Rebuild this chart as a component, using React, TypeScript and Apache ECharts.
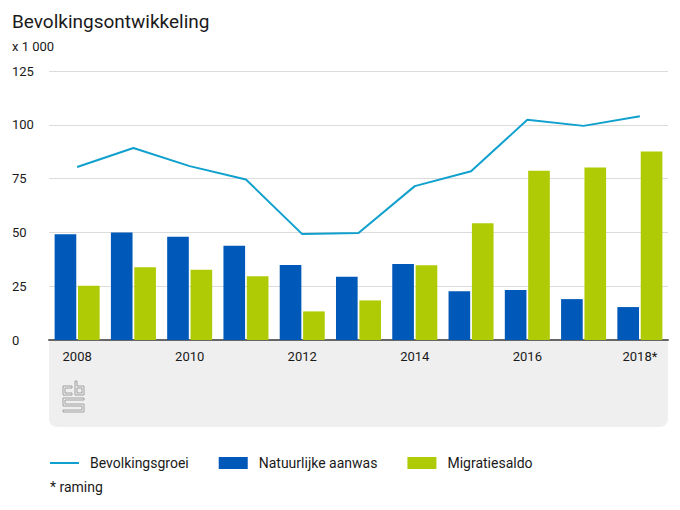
import React, { useEffect, useRef } from "react";
import * as echarts from "echarts";

const years = ["2008", "2009", "2010", "2011", "2012", "2013", "2014", "2015", "2016", "2017", "2018"];
const yearLabels = ["2008", "2009", "2010", "2011", "2012", "2013", "2014", "2015", "2016", "2017", "2018*"];
const bevolkingsgroei = [80.4, 89.2, 80.8, 74.6, 49.2, 49.7, 71.5, 78.4, 102.3, 99.5, 104.0];
const natuurlijkeAanwas = [49.1, 50.0, 48.0, 43.8, 34.8, 29.4, 35.3, 22.6, 23.2, 19.0, 15.3];
const migratiesaldo = [25.2, 33.8, 32.7, 29.6, 13.3, 18.4, 34.7, 54.2, 78.6, 80.2, 87.6];
const yTicks = [0, 25, 50, 75, 100, 125];

const FONT = "Roboto, 'Noto Sans', sans-serif";
const LOGO_STYLE = { fill: "none", stroke: "#a0a0a0", lineWidth: 1 };

export default function App() {
  const ref = useRef<HTMLDivElement>(null);
  useEffect(() => {
    document.body.style.margin = "0";
    const chart = echarts.init(ref.current!, undefined, { renderer: "svg" });
    chart.setOption({
      animation: false,
      textStyle: { fontFamily: FONT },
      title: [
        {
          text: "Bevolkingsontwikkeling",
          left: 7,
          top: 7,
          textStyle: { fontFamily: FONT, fontSize: 19, fontWeight: "normal", color: "#1a1a1a" },
        },
        {
          text: "x 1 000",
          left: 7,
          top: 35,
          textStyle: { fontFamily: FONT, fontSize: 13, fontWeight: "normal", color: "#1a1a1a" },
        },
      ],
      grid: { left: 49, right: 12, top: 71, bottom: 170, containLabel: false },
      legend: {
        left: 45,
        top: 451,
        itemWidth: 29,
        itemHeight: 12,
        itemGap: 30,
        textStyle: { fontFamily: FONT, fontSize: 14, color: "#1a1a1a", padding: [0, 0, 0, 6] },
        data: [
          { name: "Bevolkingsgroei", icon: "path://M0,0L29,0L29,2L0,2Z" },
          { name: "Natuurlijke aanwas", icon: "rect" },
          { name: "Migratiesaldo", icon: "rect" },
        ],
      },
      xAxis: {
        type: "category",
        data: years,
        axisLine: { lineStyle: { color: "#666", width: 2 } },
        axisTick: { show: false },
        axisLabel: {
          interval: 1,
          margin: 10,
          color: "#1a1a1a",
          fontSize: 13,
          fontFamily: FONT,
          formatter: (v: string) => yearLabels[years.indexOf(v)],
        },
      },
      yAxis: {
        type: "value",
        min: yTicks[0],
        max: yTicks[yTicks.length - 1],
        interval: 25,
        axisLine: { show: false },
        axisTick: { show: false },
        splitLine: { lineStyle: { color: "#dcdcdc", width: 1 } },
        axisLabel: { align: "left", margin: 37, color: "#1a1a1a", fontSize: 13, fontFamily: FONT },
      },
      graphic: [
        {
          type: "rect",
          z: -10,
          shape: { x: 49, y: 341, width: 619, height: 86, r: [0, 0, 8, 8] },
          style: { fill: "#efefef" },
        },
        {
          type: "polygon",
          shape: { points: [[72, 386], [63, 386], [63, 395], [72, 395], [72, 393], [65, 393], [65, 388], [72, 388]] },
          style: LOGO_STYLE,
        },
        {
          type: "polygon",
          shape: { points: [[75, 381], [77, 381], [77, 386], [84, 386], [84, 395], [75, 395]] },
          style: LOGO_STYLE,
        },
        {
          type: "rect",
          shape: { x: 77, y: 388, width: 5, height: 5 },
          style: LOGO_STYLE,
        },
        {
          type: "polygon",
          shape: {
            points: [[63, 398], [84, 398], [84, 400], [65, 400], [65, 404], [84, 404], [84, 412], [63, 412], [63, 410], [82, 410], [82, 406], [63, 406]],
          },
          style: LOGO_STYLE,
        },
        {
          type: "text",
          left: 50,
          top: 480,
          style: { text: "* raming", fontSize: 14, fontFamily: FONT, fill: "#1a1a1a" },
        },
      ],
      series: [
        {
          name: "Natuurlijke aanwas",
          type: "bar",
          data: natuurlijkeAanwas,
          itemStyle: { color: "#0058b8" },
          barGap: "8%",
          barCategoryGap: "20%",
        },
        {
          name: "Migratiesaldo",
          type: "bar",
          data: migratiesaldo,
          itemStyle: { color: "#afcb05" },
        },
        {
          name: "Bevolkingsgroei",
          type: "line",
          data: bevolkingsgroei,
          symbol: "none",
          lineStyle: { color: "#0fa0cd", width: 2 },
          itemStyle: { color: "#0fa0cd" },
          z: 5,
        },
      ],
    });
    return () => chart.dispose();
  }, []);
  return <div ref={ref} style={{ width: 680, height: 510 }} />;
}
